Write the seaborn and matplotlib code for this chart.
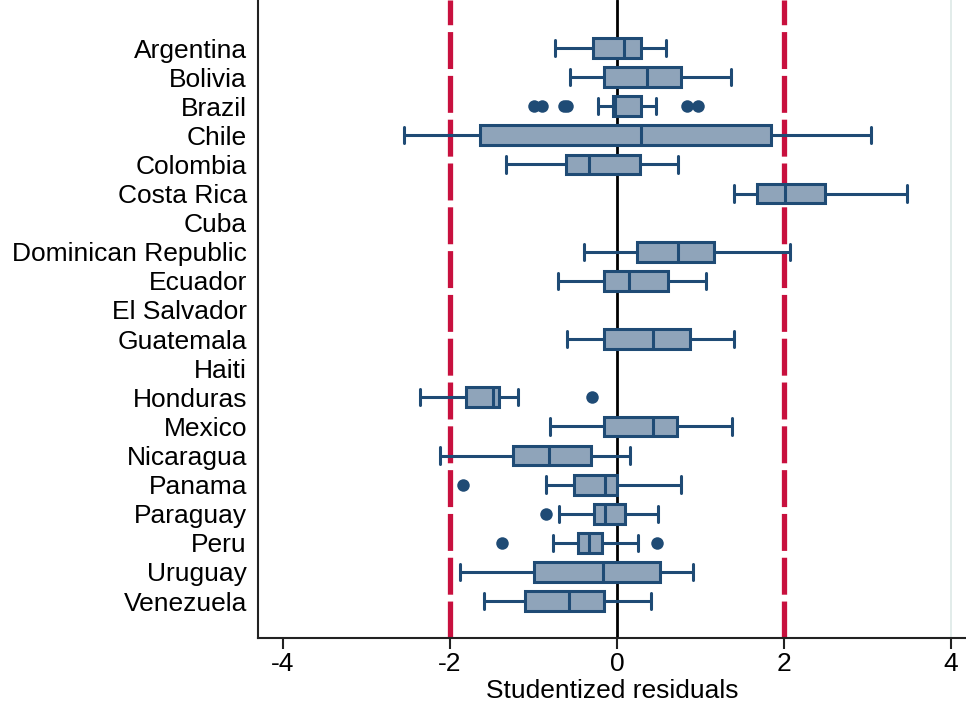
import matplotlib
matplotlib.use("Agg")
import matplotlib.pyplot as plt
import seaborn as sns
import pandas as pd
import numpy as np

countries = ["Argentina", "Bolivia", "Brazil", "Chile", "Colombia", "Costa Rica",
             "Cuba", "Dominican Republic", "Ecuador", "El Salvador", "Guatemala",
             "Haiti", "Honduras", "Mexico", "Nicaragua", "Panama", "Paraguay",
             "Peru", "Uruguay", "Venezuela"]

# five-number summaries: lower adjacent, q1, median, q3, upper adjacent (None = no data)
lower_adj = [-0.74, -0.56, -0.23, -2.55, -1.33, 1.40, None, -0.40, -0.71, None, -0.60,
             None, -2.36, -0.80, -2.12, -0.85, -0.69, -0.77, -1.88, -1.59]
q1 = [-0.29, -0.16, -0.05, -1.64, -0.61, 1.68, None, 0.24, -0.15, None, -0.16,
      None, -1.81, -0.15, -1.24, -0.52, -0.27, -0.47, -0.99, -1.10]
median = [0.08, 0.36, -0.02, 0.29, -0.33, 2.01, None, 0.73, 0.14, None, 0.43,
          None, -1.48, 0.43, -0.81, -0.14, -0.14, -0.33, -0.17, -0.57]
q3 = [0.29, 0.77, 0.29, 1.84, 0.27, 2.49, None, 1.16, 0.61, None, 0.88,
      None, -1.41, 0.72, -0.31, 0.00, 0.10, -0.18, 0.52, -0.15]
upper_adj = [0.59, 1.36, 0.47, 3.04, 0.73, 3.47, None, 2.07, 1.07, None, 1.40,
             None, -1.18, 1.38, 0.16, 0.77, 0.49, 0.25, 0.91, 0.41]

out_country = ["Brazil", "Brazil", "Brazil", "Brazil", "Brazil", "Brazil",
               "Honduras", "Panama", "Paraguay", "Peru", "Peru"]
out_value = [-1.00, -0.90, -0.63, -0.60, 0.84, 0.97,
             -0.30, -1.85, -0.85, -1.38, 0.48]

rows = []
for i, c in enumerate(countries):
    if median[i] is None:
        continue
    for v in (lower_adj[i], q1[i], median[i], q3[i], upper_adj[i]):
        rows.append({"country": c, "value": v})
df = pd.DataFrame(rows)
outliers = pd.DataFrame({"country": out_country, "value": out_value})

sns.set_style("white")
plt.rcParams["font.family"] = ["Liberation Sans", "DejaVu Sans"]
plt.rcParams["text.color"] = "black"
plt.rcParams["axes.labelcolor"] = "black"
plt.rcParams["xtick.color"] = "black"
plt.rcParams["ytick.color"] = "black"

fig = plt.figure(figsize=(9.66, 7.05), dpi=100)
ax = fig.add_axes([258 / 966, 1 - 638 / 705, 1 - 258 / 966, 638 / 705])

navy = "#1f4b75"
fill = "#8fa4ba"
red = "#c8103e"

# reference lines
ax.axvline(4, color="#dde9e6", lw=1.2, zorder=0)
ax.axvline(0, color="black", lw=2.0, zorder=1)
for xv in (-2, 2):
    ax.axvline(xv, color=red, lw=3.8, dashes=(7, 1.3), zorder=1)

sns.boxplot(data=df, x="value", y="country", order=countries, orient="h",
            whis=(0, 100), width=0.68, color=fill, linecolor=navy, linewidth=2.2,
            saturation=1, showfliers=False, ax=ax, zorder=3,
            capprops={"color": navy, "linewidth": 2.2},
            medianprops={"color": navy, "linewidth": 2.2},
            capwidths=0.56)

sns.stripplot(data=outliers, x="value", y="country", order=countries, orient="h",
              jitter=False, color=navy, size=9, ax=ax, zorder=4, linewidth=0)

ax.set_xlim(-4.30, 4.18)
ax.set_ylim(20.27, -1.65)
ax.set_xticks([-4, -2, 0, 2, 4])
ax.set_xticklabels(["-4", "-2", "0", "2", "4"])
ax.set_xlabel("Studentized residuals", fontsize=19, labelpad=2)
ax.set_ylabel("")
ax.tick_params(axis="x", length=8, width=1.5, color="#222222", labelsize=19, pad=2,
               direction="out", bottom=True)
ax.tick_params(axis="y", length=0, labelsize=19, pad=8)

for s in ("top", "right"):
    ax.spines[s].set_visible(False)
for s in ("left", "bottom"):
    ax.spines[s].set_color("#222222")
    ax.spines[s].set_linewidth(1.5)

fig.savefig("out.png", dpi=100)
